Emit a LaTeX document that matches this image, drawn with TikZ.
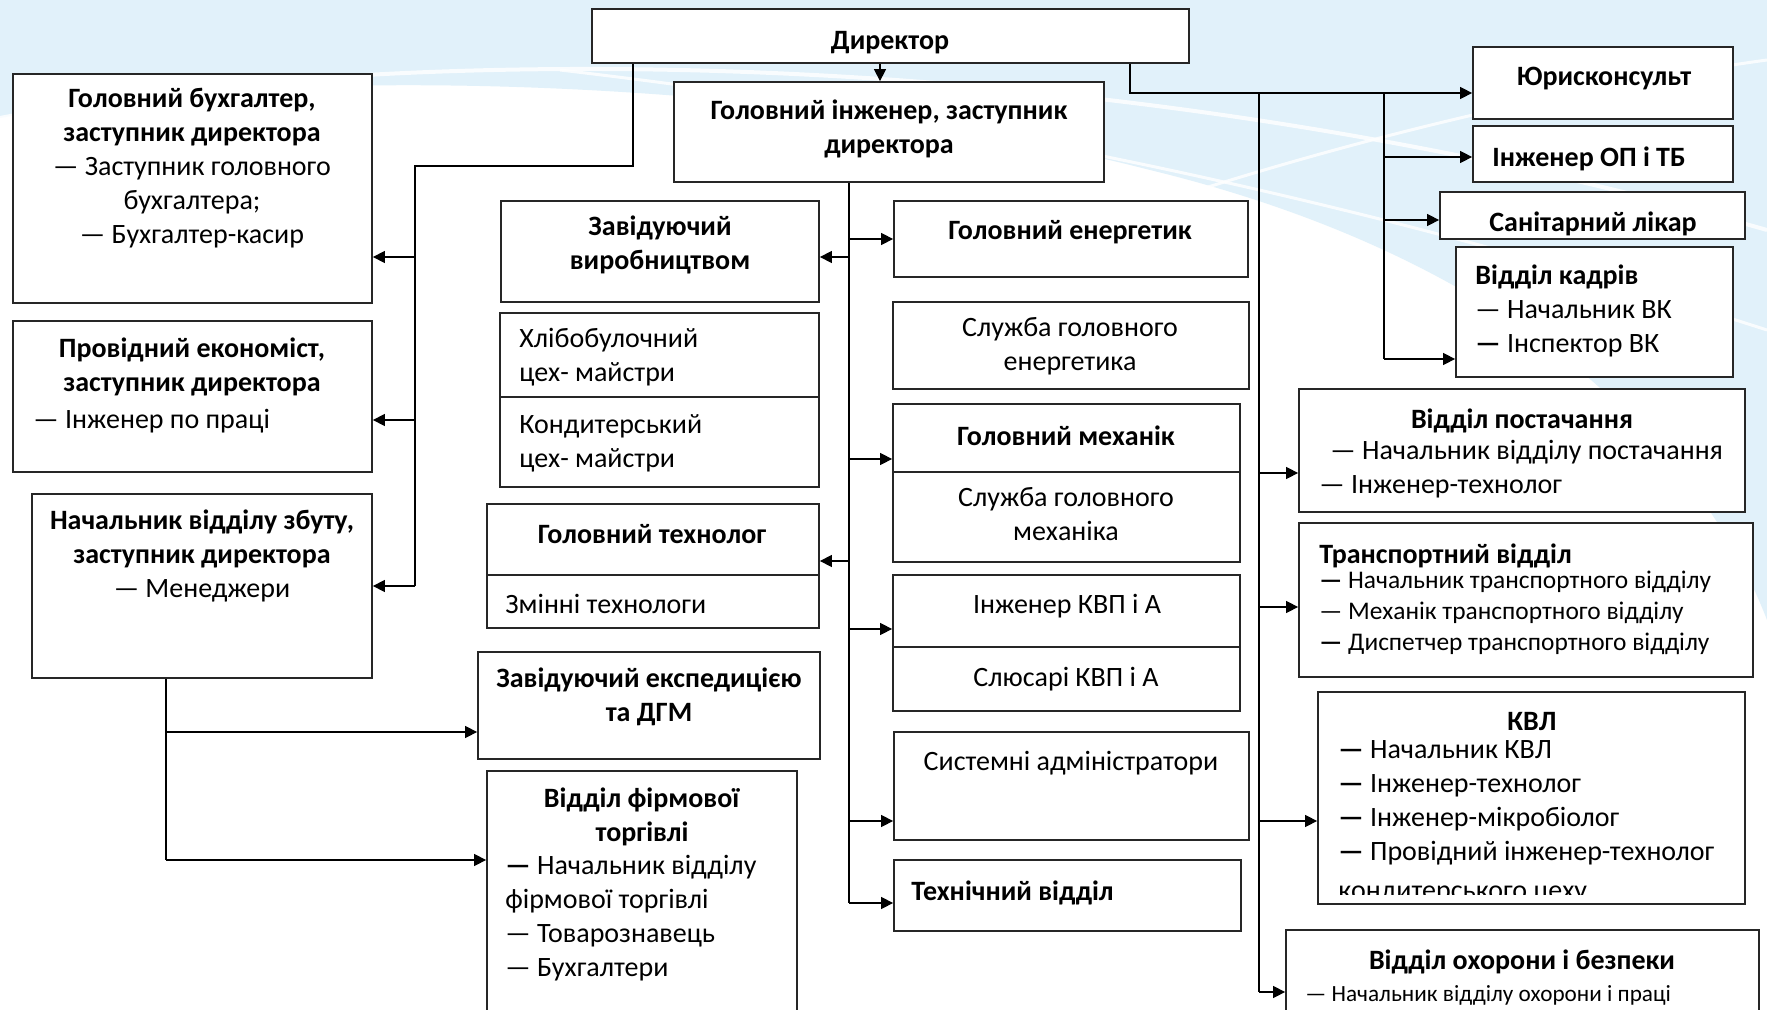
\documentclass[tikz,border=0pt]{standalone}
\usepackage{fontspec}
\setmainfont{Carlito}
\usetikzlibrary{fit,arrows.meta}

\definecolor{skyback}{RGB}{225,241,250}

\tikzset{
    box/.style={draw=black!85, line width=0.9pt, fill=white, inner sep=0pt},
    line/.style={line width=0.7pt},
    arr/.style={line, -{Triangle[length=6pt,width=6pt]}},
    txt/.style={inner sep=0pt, anchor=north, yshift=6.25pt, align=center,
        font=\fontsize{14}{17}\selectfont, execute at begin node={\rule{0pt}{12pt}}},
    txtl/.style={txt, anchor=north west, align=left},
}

\begin{document}
\begin{tikzpicture}[x=0.5pt,y=-0.5pt]
    \useasboundingbox (0,0) rectangle (1767,1010);
    % background
    \fill[white] (0,0) rectangle (1767,1010);
    \fill[skyback] (0,0) -- (1767,0) -- (1767,620) .. controls (1690,420) and (1480,250) .. (1150,170)
        .. controls (800,80) and (300,60) .. (0,118) -- cycle;
    \draw[white, line width=2pt, opacity=0.8] (0,118) .. controls (400,40) and (1100,40) .. (1767,230);
    \draw[white, line width=1.5pt, opacity=0.8] (560,70) .. controls (900,110) and (1300,180) .. (1767,330);
    \draw[white, line width=1.5pt, opacity=0.8] (1050,240) .. controls (1300,150) and (1550,90) .. (1767,60);

    % boxes
    \node[box, fit={(592,9) (1189,63)}] (dir) {};
    \node[box, fit={(13,74) (372,303)}] (buh) {};
    \node[box, fit={(13,321) (372,472)}] (econ) {};
    \node[box, fit={(32,494) (372,678)}] (sbut) {};
    \node[box, fit={(674,82) (1104,182)}] (geng) {};
    \node[box, fit={(501,201) (819,302)}] (zav) {};
    \node[box, fit={(500,313) (819,397)}] (hlib) {};
    \node[box, fit={(500,397) (819,487)}] (kond) {};
    \node[box, fit={(487,504) (819,575)}] (tech) {};
    \node[box, fit={(487,575) (819,628)}] (zmin) {};
    \node[box, fit={(478,652) (820,759)}] (exped) {};
    \node[box, fit={(487,771) (797,1016)}] (firm) {};
    \node[box, fit={(894,201) (1248,277)}] (energ) {};
    \node[box, fit={(893,302) (1249,389)}] (senerg) {};
    \node[box, fit={(893,404) (1240,472)}] (mech) {};
    \node[box, fit={(893,472) (1240,562)}] (smech) {};
    \node[box, fit={(893,575) (1240,647)}] (kvp) {};
    \node[box, fit={(893,647) (1240,711)}] (slus) {};
    \node[box, fit={(894,732) (1249,840)}] (sys) {};
    \node[box, fit={(894,860) (1241,931)}] (techv) {};
    \node[box, fit={(1473,47) (1733,119)}] (yur) {};
    \node[box, fit={(1473,126) (1733,182)}] (op) {};
    \node[box, fit={(1440,192) (1745,239)}] (san) {};
    \node[box, fit={(1456,247) (1733,377)}] (kadr) {};
    \node[box, fit={(1299,389) (1745,512)}] (post) {};
    \node[box, fit={(1299,523) (1753,677)}] (trans) {};
    \node[box, fit={(1318,692) (1745,904)}] (kvl) {};
    \node[box, fit={(1286,930) (1759,1016)}] (ohor) {};

    % texts
    \node[txt] (dir-t) at (890,38) {\textbf{Директор}};
    \node[txt] (buh-t) at (192,100) {\textbf{Головний бухгалтер,}\\ \textbf{заступник директора}\\ — Заступник головного\\ бухгалтера;\\ — Бухгалтер-касир};
    \node[txt] (econ-t) at (192,350) {\textbf{Провідний економіст,}\\ \textbf{заступник директора}};
    \node[txtl] (econ-l) at (33,417) {— Інженер по праці};
    \node[txt] (sbut-t) at (202,522) {\textbf{Начальник відділу збуту,}\\ \textbf{заступник директора}\\ — Менеджери};
    \node[txt] (geng-t) at (889,112) {\textbf{Головний інженер, заступник}\\ \textbf{директора}};
    \node[txt] (zav-t) at (660,228) {\textbf{Завідуючий}\\ \textbf{виробництвом}};
    \node[txtl] (hlib-t) at (519,340) {Хлібобулочний\\ цех- майстри};
    \node[txtl] (kond-t) at (519,427) {Кондитерський\\ цех- майстри};
    \node[txt] (tech-t) at (652,532) {\textbf{Головний технолог}};
    \node[txtl] (zmin-t) at (505,602) {Змінні технологи};
    \node[txt] (exped-t) at (649,680) {\textbf{Завідуючий експедицією}\\ \textbf{та ДГМ}};
    \node[txt] (firm-t) at (642,800) {\textbf{Відділ фірмової}\\ \textbf{торгівлі}};
    \node[txtl] (firm-l) at (505,867) {\textbf{—} Начальник відділу\\ фірмової торгівлі\\ — Товарознавець\\ — Бухгалтери};
    \node[txt] (energ-t) at (1070,228) {\textbf{Головний енергетик}};
    \node[txt] (senerg-t) at (1070,330) {Служба головного\\ енергетика};
    \node[txt] (mech-t) at (1066,434) {\textbf{Головний механік}};
    \node[txt] (smech-t) at (1066,500) {Служба головного\\ механіка};
    \node[txt] (kvp-t) at (1067,602) {Інженер КВП і А};
    \node[txt] (slus-t) at (1066,675) {Слюсарі КВП і А};
    \node[txt] (sys-t) at (1071,759) {Системні адміністратори};
    \node[txtl] (techv-t) at (911,889) {\textbf{Технічний відділ}};
    \node[txt] (yur-t) at (1604,74) {\textbf{Юрисконсульт}};
    \node[txtl] (op-t) at (1492,155) {\textbf{Інженер ОП і ТБ}};
    \node[txt] (san-t) at (1593,220) {\textbf{Санітарний лікар}};
    \node[txtl] (kadr-t) at (1475,277) {\textbf{Відділ кадрів}\\ — Начальник ВК\\ \textbf{—} Інспектор ВК};
    \node[txt] (post-t) at (1522,417) {\textbf{Відділ постачання}};
    \node[txtl] (post-l) at (1319,452) {\hspace*{5.5pt}— Начальник відділу постачання\\ — Інженер-технолог};
    \node[txtl] (trans-t) at (1319,552) {\textbf{Транспортний відділ}};
    \node[txtl, font=\fontsize{12.7}{15.5}\selectfont] (trans-l) at (1319,583) {\textbf{—} Начальник транспортного відділу\\ — Механік транспортного відділу\\ \textbf{—} Диспетчер транспортного відділу};
    \node[txt] (kvl-t) at (1532,719) {\textbf{КВЛ}};
    \node[txtl] (kvl-l) at (1338,753) {\textbf{—} Начальник КВЛ\\ \textbf{—} Інженер-технолог\\ \textbf{—} Інженер-мікробіолог\\ \textbf{—} Провідний інженер-технолог};
    \begin{scope}
        \clip (kvl.north west) rectangle ([yshift=5pt]kvl.south east);
        \node[txtl] (kvl-c) at (1338,888) {кондитерського цеху};
    \end{scope}
    \node[txt] (ohor-t) at (1522,958) {\textbf{Відділ охорони і безпеки}};
    \node[txtl, font=\fontsize{11.6}{14}\selectfont] (ohor-l) at (1305,990) {— Начальник відділу охорони і праці};

    % bus points
    \coordinate (xl) at (633,0);
    \coordinate (jl) at (415,166);
    \coordinate (xg) at (880,0);
    \coordinate (je) at (849,903);
    \coordinate (jr) at (1130,93);
    \coordinate (jp) at (1259,992);
    \coordinate (jk) at (1384,359);
    \coordinate (js) at (166,860);

    % director, left side
    \draw[line] (dir.south -| xl) |- (jl) -- (jl |- sbut.east);
    \draw[arr] (jl |- 0,257) -- (buh.east |- 0,257);
    \draw[arr] (jl |- 0,420) -- (econ.east |- 0,420);
    \draw[arr] (jl |- sbut.east) -- (sbut.east);
    \draw[line] (sbut.south -| js) -- (js);
    \draw[arr] (js |- 0,732) -- (exped.west |- 0,732);
    \draw[arr] (js) -- (firm.west |- js);

    % chief engineer
    \draw[arr] (dir.south -| xg) -- (geng.north -| xg);
    \draw[line] (geng.south -| je) -- (je);
    \draw[arr] (je |- 0,257) -- (zav.east |- 0,257);
    \draw[arr] (je |- 0,239) -- (energ.west |- 0,239);
    \draw[arr] (je |- 0,459) -- (mech.west |- 0,459);
    \draw[arr] (je |- 0,561) -- (tech.east |- 0,561);
    \draw[arr] (je |- 0,629) -- (kvp.west |- 0,629);
    \draw[arr] (je |- 0,821) -- (sys.west |- 0,821);
    \draw[arr] (je) -- (techv.west |- je);

    % director, right side
    \draw[arr] (dir.south -| jr) |- (yur.west |- jr);
    \draw[line] (jk |- jr) -- (jk);
    \draw[arr] (jk |- 0,157) -- (op.west |- 0,157);
    \draw[arr] (jk |- 0,220) -- (san.west |- 0,220);
    \draw[arr] (jk) -- (kadr.west |- jk);
    \draw[line] (jp |- jr) -- (jp);
    \draw[arr] (jp |- 0,473) -- (post.west |- 0,473);
    \draw[arr] (jp |- 0,607) -- (trans.west |- 0,607);
    \draw[arr] (jp |- 0,821) -- (kvl.west |- 0,821);
    \draw[arr] (jp) -- (ohor.west |- jp);
\end{tikzpicture}
\end{document}
